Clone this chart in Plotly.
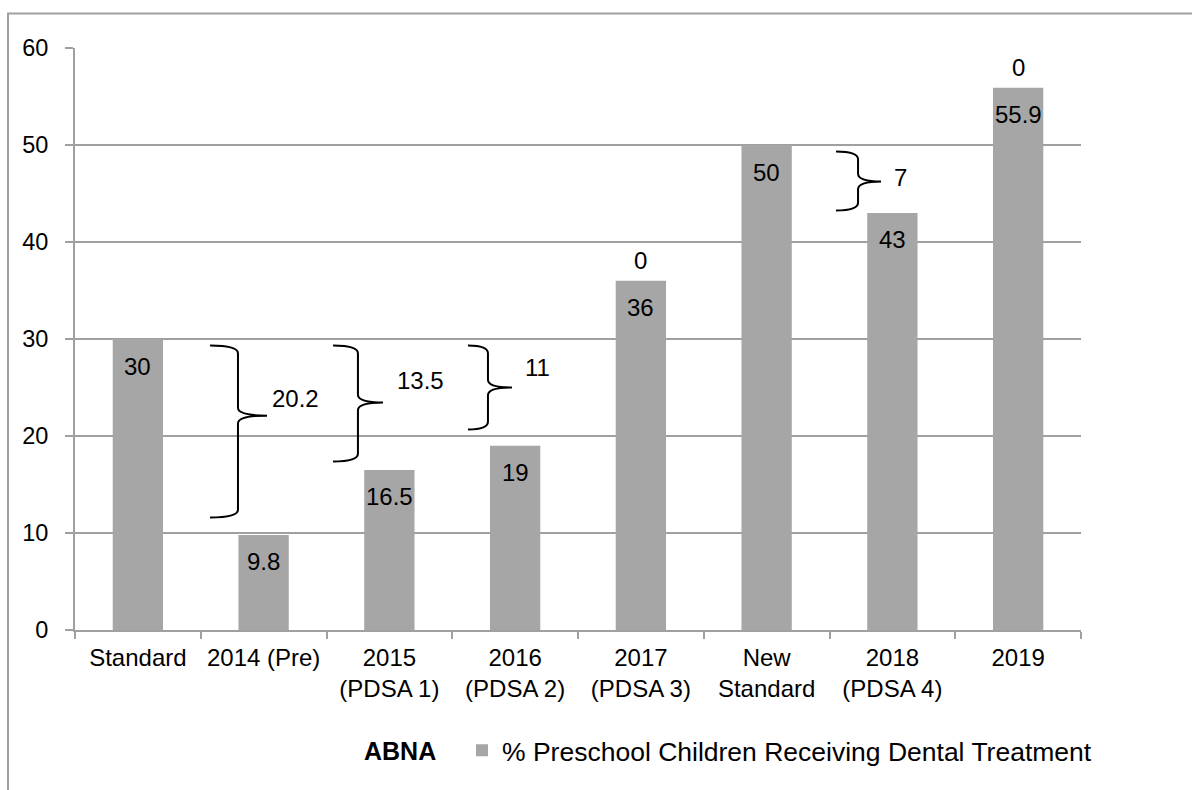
import plotly.graph_objects as go

# Categories and series values
categories = ["Standard", "2014 (Pre)", "2015<br>(PDSA 1)", "2016<br>(PDSA 2)",
              "2017<br>(PDSA 3)", "New<br>Standard", "2018<br>(PDSA 4)", "2019"]
pct_treated = [30, 9.8, 16.5, 19, 36, 50, 43, 55.9]
# second (empty) series stacked on top, shown only by its "0" labels
zero_series = [None, None, None, None, 0, None, None, 0]
# gap values written beside the braces
gap_values = [20.2, 13.5, 11, 7]

y_ticks = [0, 10, 20, 30, 40, 50, 60]

FONT = "Liberation Sans, Arial, sans-serif"
GRID = "#A0A0A0"
BAR = "#A6A6A6"

n = len(categories)
idx = list(range(n))

fig = go.Figure()
fig.add_trace(go.Bar(
    x=idx, y=pct_treated, marker_color=BAR, marker_line_width=0,
    name="% Preschool Children Receiving Dental Treatment",
    hoverinfo="skip",
))

annotations = []
# value labels inside the top of each bar
for i, v in zip(idx, pct_treated):
    annotations.append(dict(x=i, y=v, xref="x", yref="y", text=f"{v:g}",
                            showarrow=False, yshift=-27, yanchor="middle",
                            font=dict(size=24, color="#000", family=FONT)))
# labels of the zero series above their bars
for i, v, z in zip(idx, pct_treated, zero_series):
    if z is not None:
        annotations.append(dict(x=i, y=v + z, xref="x", yref="y", text=f"{z:g}",
                                showarrow=False, yshift=20, yanchor="middle",
                                font=dict(size=24, color="#000", family=FONT)))

# brace geometry: (left tip, spine, cusp tip) in category index, (top, cusp, bottom) in y
braces = [
    ((0.574, 0.796, 1.027), (29.33, 22.1, 11.6)),
    ((1.552, 1.750, 1.949), (29.33, 23.45, 17.37)),
    ((2.625, 2.784, 2.975), (29.33, 25.0, 20.67)),
    ((5.552, 5.727, 5.910), (49.33, 46.24, 43.25)),
]
brace_label_pos = [(1.05, 23.9), (2.045, 25.7), (3.06, 27.06), (6.0, 46.65)]

shapes = []
for (xl, xs, xt), (yt, yc, yb) in braces:
    r = 0.8
    path = (f"M{xl},{yt} Q{xs},{yt} {xs},{yt - r} "
            f"L{xs},{yc + r} Q{xs},{yc} {xt},{yc} "
            f"Q{xs},{yc} {xs},{yc - r} "
            f"L{xs},{yb + r} Q{xs},{yb} {xl},{yb}")
    shapes.append(dict(type="path", path=path, xref="x", yref="y",
                       line=dict(color="#000", width=2)))

for (lx, ly), g in zip(brace_label_pos, gap_values):
    annotations.append(dict(x=lx, y=ly, xref="x", yref="y", text=f"{g:g}",
                            showarrow=False, xanchor="left", yanchor="middle",
                            font=dict(size=24, color="#000", family=FONT)))

# legend caption
annotations.append(dict(x=(362 - 75) / 1006, y=(629.5 - 750) / 582,
                        xref="paper", yref="paper", text="<b>ABNA</b>",
                        showarrow=False, xanchor="left", yanchor="middle",
                        font=dict(size=25, color="#000", family=FONT)))

# outer frame
shapes.append(dict(type="rect", xref="paper", yref="paper",
                   x0=(8 - 75) / 1006, x1=1.3, y0=-0.5, y1=(629.5 - 13) / 582,
                   line=dict(color=GRID, width=2), layer="below"))

fig.update_layout(
    width=1192, height=790,
    margin=dict(l=75, r=111, t=48, b=160),
    paper_bgcolor="white", plot_bgcolor="white",
    font=dict(family=FONT, size=23, color="#000"),
    bargap=0.6,
    showlegend=True,
    legend=dict(orientation="h", x=(462 - 75) / 1006, xanchor="left",
                y=(629.5 - 750) / 582, yanchor="middle",
                font=dict(size=26.5, family=FONT, color="#000"),
                bgcolor="rgba(0,0,0,0)"),
    annotations=annotations,
    shapes=shapes,
    xaxis=dict(range=[-0.5, n - 0.5], tickvals=idx, ticktext=categories,
               ticks="", showline=True, linecolor=GRID, linewidth=2,
               showgrid=False, zeroline=False, ticklabelstandoff=5,
               minor=dict(tickvals=[i - 0.5 for i in range(n + 1)], ticks="outside",
                          ticklen=7, tickwidth=2, tickcolor=GRID, showgrid=False),
               tickfont=dict(size=24, family=FONT, color="#000")),
    yaxis=dict(range=[0, 60], tickvals=y_ticks, ticks="outside", ticklen=8,
               tickwidth=2, tickcolor=GRID, showline=True, linecolor=GRID,
               linewidth=2, showgrid=True, gridcolor=GRID, gridwidth=2,
               zeroline=False, ticklabelstandoff=12,
               tickfont=dict(size=23.5, family=FONT, color="#000")),
)

fig.write_html("out.html", config={"displayModeBar": False})
